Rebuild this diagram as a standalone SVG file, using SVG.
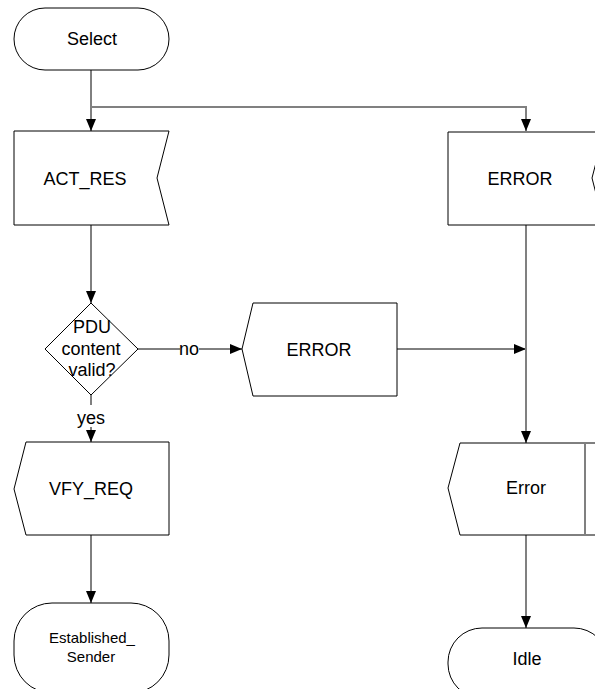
<svg xmlns="http://www.w3.org/2000/svg" width="595" height="689" viewBox="0 0 595 689">
<style>
.s{fill:#fff;stroke:#000;stroke-width:1}
.t{font-family:"Liberation Sans",Arial,sans-serif;font-size:18px;fill:#000;text-anchor:middle}
.sm{font-size:15px}
.c{fill:none;stroke:#000;stroke-width:1}
.g{stroke:#808080;stroke-width:2}
</style>
<defs>
<marker id="a" viewBox="0 0 12 12" refX="12" refY="6" markerWidth="12" markerHeight="12" markerUnits="userSpaceOnUse" orient="auto">
<path d="M0,1 L12,6 L0,11 Z" fill="#000"/>
</marker>
</defs>
<rect width="595" height="689" fill="#fff"/>
<g id="connectors">
<path class="c" d="M91,70 V131" marker-end="url(#a)"/>
<path class="c g" d="M91,107 H526 V131" marker-end="url(#a)"/>
<path class="c" d="M91,225 V303" marker-end="url(#a)"/>
<path class="c" d="M138,349 H242" marker-end="url(#a)"/>
<path class="c" d="M397,349 H526" marker-end="url(#a)"/>
<path class="c g" d="M526,225 V443" marker-end="url(#a)"/>
<path class="c" d="M91,395 V442" marker-end="url(#a)"/>
<path class="c" d="M91,535 V603" marker-end="url(#a)"/>
<path class="c g" d="M526,535 V628" marker-end="url(#a)"/>
<rect x="180" y="341" width="19" height="16" fill="#fff"/>
<text class="t" x="189" y="355">no</text>
<rect x="76" y="405" width="30" height="22" fill="#fff"/>
<text class="t" x="91" y="424">yes</text>
</g>
<g id="select">
<rect class="s" x="14" y="8" width="155" height="62" rx="31"/>
<text class="t" x="92" y="45">Select</text>
</g>
<g id="act_res">
<path class="s" d="M14,131 H169 L157,178 L169,225 H14 Z"/>
<text class="t" x="85" y="185">ACT_RES</text>
</g>
<g id="error_in">
<path class="s" d="M448,132 H604 L592,178 L604,225 H448 Z"/>
<text class="t" x="520" y="185">ERROR</text>
</g>
<g id="decision">
<path class="s" d="M91,303 L138,349 L91,395 L45,349 Z"/>
<text class="t" x="92" y="333">PDU</text>
<text class="t" x="91" y="355">content</text>
<text class="t" x="92" y="376">valid?</text>
</g>
<g id="error_out">
<path class="s" d="M253,303 H397 V396 H253 L242,349 Z"/>
<text class="t" x="319" y="356">ERROR</text>
</g>
<g id="vfy_req">
<path class="s" d="M26,442 H169 V535 H26 L14,489 Z"/>
<text class="t" x="91" y="495">VFY_REQ</text>
</g>
<g id="error_task">
<path class="s" d="M460,443 H610 V535 H460 L448,488 Z"/>
<line x1="585" y1="443" x2="585" y2="535" stroke="#808080" stroke-width="2"/>
<text class="t" x="526" y="494">Error</text>
</g>
<g id="established">
<rect class="s" x="14" y="603" width="155" height="90" rx="38"/>
<text class="t sm" x="92" y="643">Established_</text>
<text class="t sm" x="91" y="662">Sender</text>
</g>
<g id="idle">
<rect class="s" x="448" y="628" width="160" height="70" rx="34"/>
<text class="t" x="527" y="665">Idle</text>
</g>
</svg>
